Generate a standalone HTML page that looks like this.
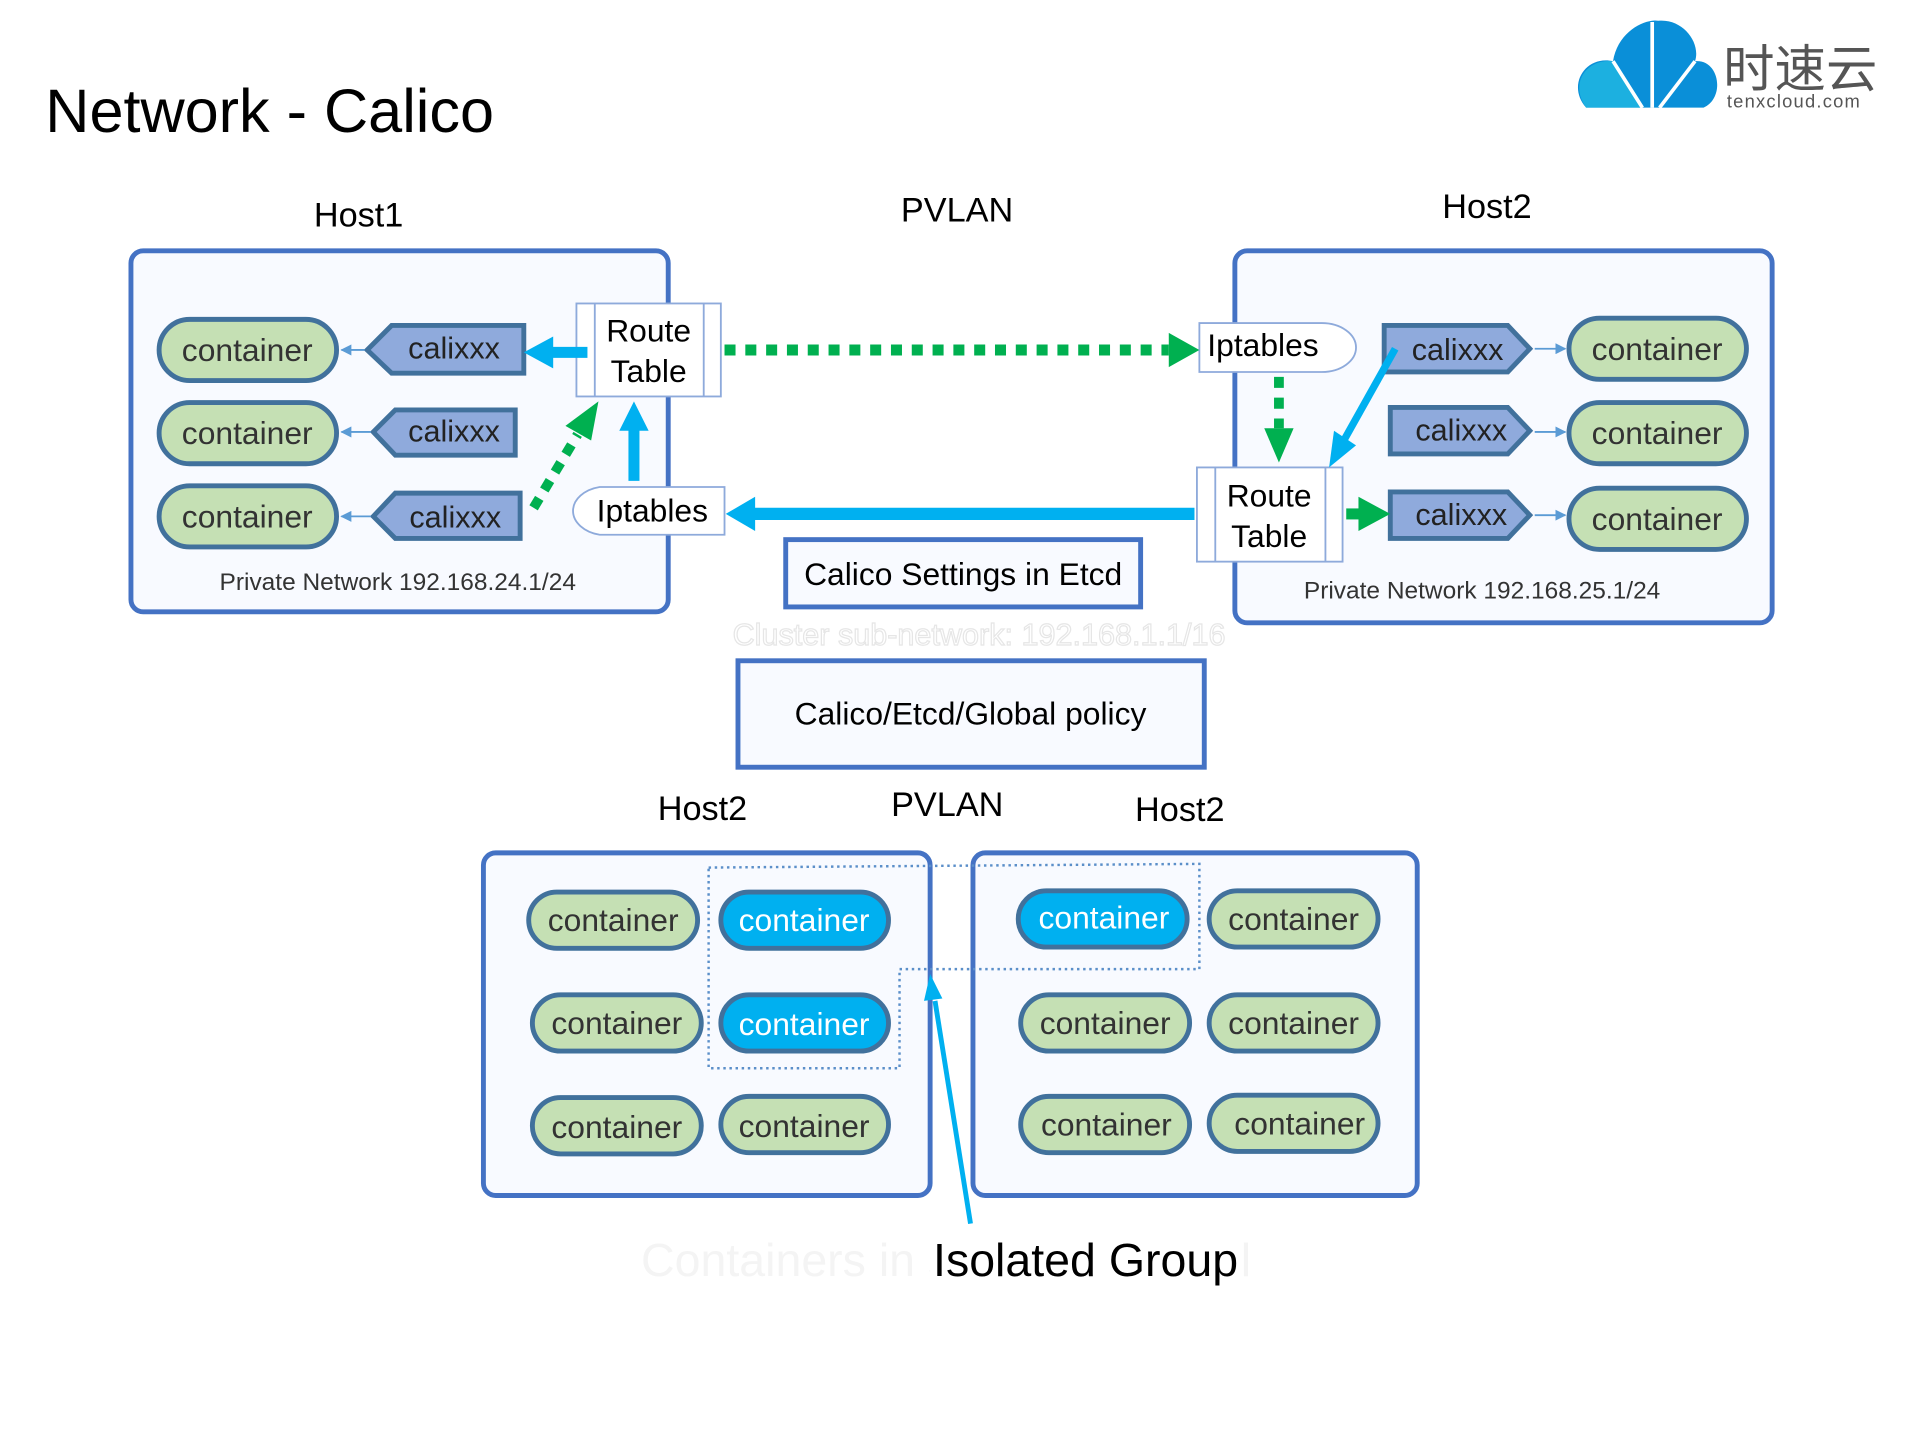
<!DOCTYPE html>
<html><head><meta charset="utf-8"><style>html,body{margin:0;padding:0;background:#fff;overflow:hidden}svg{display:block}</style></head><body>
<svg width="1919" height="1439" viewBox="0 0 1568 1176" preserveAspectRatio="none" xmlns="http://www.w3.org/2000/svg" font-family="Liberation Sans, sans-serif">
<defs>
<marker id="as" viewBox="0 0 10 10" refX="9" refY="5" markerWidth="6" markerHeight="6" orient="auto"><path d="M0,0L10,5L0,10z" fill="#5b9bd5"/></marker>
</defs>
<text x="37" y="108" font-size="50" fill="#000">Network - Calico</text>
<!-- logo -->
<path d="M1296,88 C1280,70 1295,45 1318,50 C1322,25 1345,15 1355,17 C1375,15 1390,35 1385,50 C1405,48 1410,80 1392,88 Z" fill="#0a8fd8"/>
<path d="M1296,88 C1282,68 1296,48 1318,50 L1342,88Z" fill="#1cb0e0"/>
<path d="M1350,18 L1350,88 M1318,50 L1342,88 M1385,50 L1356,88" stroke="#fff" stroke-width="3"/>
<text x="1408" y="71" font-size="42" fill="#555" font-family="Liberation Sans, Noto Sans CJK SC, sans-serif">时速云</text>
<text x="1411" y="88" font-size="15" fill="#555" letter-spacing="1">tenxcloud.com</text>

<g font-size="28" fill="#000" text-anchor="middle">
<text x="293" y="185">Host1</text><text x="782" y="181">PVLAN</text><text x="1215" y="178">Host2</text>
<text x="574" y="670">Host2</text><text x="774" y="667">PVLAN</text><text x="964" y="671">Host2</text>
</g>
<g fill="#f8faff" stroke="#4472c4" stroke-width="4">
<rect x="107" y="205" width="439" height="295" rx="10"/>
<rect x="1009" y="205" width="439" height="304" rx="10"/>
<rect x="642" y="441" width="290" height="55"/>
<rect x="603" y="540" width="381" height="87"/>
<rect x="395" y="697" width="365" height="280" rx="10"/>
<rect x="795" y="697" width="363" height="280" rx="10"/>
</g>
<g font-size="26" fill="#000" text-anchor="middle">
<text x="787" y="478">Calico Settings in Etcd</text>
<text x="793" y="592">Calico/Etcd/Global policy</text>
</g>
<text x="800" y="527" font-size="25" fill="#fff" stroke="#e6e6e6" stroke-width="1" text-anchor="middle">Cluster sub-network: 192.168.1.1/16</text>
<g font-size="20" fill="#333" text-anchor="middle"><text x="325" y="482">Private Network 192.168.24.1/24</text><text x="1211" y="489">Private Network 192.168.25.1/24</text></g>

<!-- containers -->
<g fill="#c5e0b4" stroke="#41719c" stroke-width="4">
<rect x="130" y="261" width="145" height="50" rx="25"/><rect x="130" y="329" width="145" height="50" rx="25"/><rect x="130" y="397" width="145" height="50" rx="25"/>
<rect x="1282" y="260" width="145" height="50" rx="25"/><rect x="1282" y="329" width="145" height="50" rx="25"/><rect x="1282" y="399" width="145" height="50" rx="25"/>
<rect x="432" y="729" width="138" height="46" rx="23"/><rect x="435" y="813" width="138" height="46" rx="23"/><rect x="435" y="897" width="138" height="46" rx="23"/><rect x="589" y="896" width="137" height="46" rx="23"/>
<rect x="988" y="728" width="138" height="46" rx="23"/><rect x="834" y="813" width="138" height="46" rx="23"/><rect x="988" y="813" width="138" height="46" rx="23"/><rect x="834" y="896" width="138" height="46" rx="23"/><rect x="988" y="895" width="138" height="46" rx="23"/>
</g>
<g fill="#00b0f0" stroke="#41719c" stroke-width="4">
<rect x="589" y="729" width="137" height="46" rx="23"/><rect x="589" y="813" width="137" height="46" rx="23"/><rect x="832" y="728" width="138" height="46" rx="23"/>
</g>
<g font-size="26" fill="#333" text-anchor="middle">
<text x="202" y="295">container</text><text x="202" y="363">container</text><text x="202" y="431">container</text>
<text x="1354" y="294">container</text><text x="1354" y="363">container</text><text x="1354" y="433">container</text>
<text x="501" y="761">container</text><text x="504" y="845">container</text><text x="504" y="930">container</text><text x="657" y="929">container</text>
<text x="1057" y="760">container</text><text x="903" y="845">container</text><text x="1057" y="845">container</text><text x="904" y="928">container</text><text x="1062" y="927">container</text>
</g>
<g font-size="26" fill="#fff" text-anchor="middle"><text x="657" y="761">container</text><text x="657" y="846">container</text><text x="902" y="759">container</text></g>

<!-- calixxx -->
<g fill="#8faadc" stroke="#41719c" stroke-width="4">
<path d="M300,286 L320,266 L428,266 L428,305 L320,305Z"/>
<path d="M305,353 L323,335 L421,335 L421,372 L323,372Z"/>
<path d="M305,422 L323,403 L425,403 L425,440 L323,440Z"/>
<path d="M1131,266 L1232,266 L1250,285 L1232,304 L1131,304Z"/>
<path d="M1136,333 L1232,333 L1250,352 L1232,371 L1136,371Z"/>
<path d="M1136,402 L1232,402 L1250,421 L1232,440 L1136,440Z"/>
</g>
<g font-size="25" fill="#222" text-anchor="middle">
<text x="371" y="293">calixxx</text><text x="371" y="361">calixxx</text><text x="372" y="431">calixxx</text>
<text x="1191" y="294">calixxx</text><text x="1194" y="360">calixxx</text><text x="1194" y="429">calixxx</text>
</g>
<g stroke="#5b9bd5" stroke-width="1.5" marker-end="url(#as)">
<line x1="298" y1="286" x2="279" y2="286"/><line x1="303" y1="353" x2="279" y2="353"/><line x1="303" y1="422" x2="279" y2="422"/>
<line x1="1254" y1="285" x2="1279" y2="285"/><line x1="1254" y1="353" x2="1279" y2="353"/><line x1="1254" y1="421" x2="1279" y2="421"/>
</g>

<!-- route tables & iptables -->
<g fill="#fff" stroke="#8eaadb" stroke-width="1.5">
<rect x="471" y="248" width="118" height="76"/><line x1="486" y1="248" x2="486" y2="324"/><line x1="575" y1="248" x2="575" y2="324"/>
<rect x="978" y="382" width="119" height="77"/><line x1="993" y1="382" x2="993" y2="459"/><line x1="1083" y1="382" x2="1083" y2="459"/>
<path d="M592,398 L490,398 A28,20 0 0 0 490,437 L592,437Z"/>
<path d="M980,264 L1080,264 A28,20 0 0 1 1080,304 L980,304Z"/>
</g>
<g font-size="26" fill="#000" text-anchor="middle">
<text x="530" y="279">Route</text><text x="530" y="312">Table</text>
<text x="1037" y="414">Route</text><text x="1037" y="447">Table</text>
<text x="533" y="426">Iptables</text><text x="1032" y="291">Iptables</text>
</g>

<!-- arrows -->
<line x1="480" y1="288" x2="450" y2="288" stroke="#00b0f0" stroke-width="9"/>
<path d="M452,275 L428,288 L452,301Z" fill="#00b0f0"/>
<line x1="518" y1="393" x2="518" y2="350" stroke="#00b0f0" stroke-width="9"/>
<path d="M506,352 L518,328 L530,352Z" fill="#00b0f0"/>
<line x1="976" y1="420" x2="615" y2="420" stroke="#00b0f0" stroke-width="10"/>
<path d="M617,406 L593,420 L617,434Z" fill="#00b0f0"/>
<line x1="1140" y1="285" x2="1098" y2="360" stroke="#00b0f0" stroke-width="6"/>
<path d="M1090,352 L1086,382 L1108,364Z" fill="#00b0f0"/>
<line x1="592" y1="286" x2="955" y2="286" stroke="#00b050" stroke-width="9" stroke-dasharray="9,8"/>
<path d="M955,272 L980,286 L955,300Z" fill="#00b050"/>
<line x1="1045" y1="308" x2="1045" y2="350" stroke="#00b050" stroke-width="8" stroke-dasharray="9,8"/>
<path d="M1033,350 L1045,378 L1057,350Z" fill="#00b050"/>
<line x1="436" y1="415" x2="472" y2="355" stroke="#00b050" stroke-width="8" stroke-dasharray="9,8"/>
<path d="M462,348 L489,328 L483,360Z" fill="#00b050"/>
<line x1="1100" y1="420" x2="1112" y2="420" stroke="#00b050" stroke-width="9"/>
<path d="M1110,406 L1136,420 L1110,434Z" fill="#00b050"/>

<!-- isolated group -->
<path d="M579,709 L980,706 L980,792 L735,792 L735,873 L579,873Z" fill="none" stroke="#5b8fc9" stroke-width="2" stroke-dasharray="2,3"/>
<line x1="793" y1="1000" x2="764" y2="818" stroke="#00b0f0" stroke-width="4"/>
<path d="M755,818 L760,796 L770,816Z" fill="#00b0f0"/>
<text x="773" y="1043" font-size="38" fill="#f4f4f4" text-anchor="middle">Containers in same group will</text>
<rect x="760" y="1005" width="255" height="50" fill="#fff"/>
<text x="887" y="1043" font-size="38" fill="#000" text-anchor="middle">Isolated Group</text>
</svg>
</body></html>
